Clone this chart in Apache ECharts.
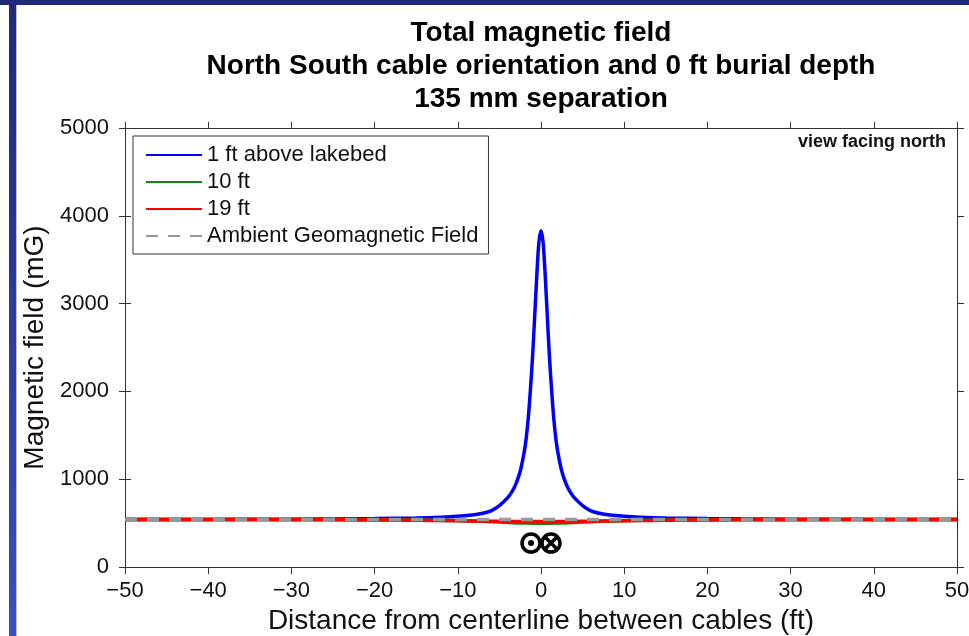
<!DOCTYPE html>
<html>
<head>
<meta charset="utf-8">
<script src="https://cdn.jsdelivr.net/npm/echarts@6/dist/echarts.min.js"></script>
<style>
  html, body { margin: 0; padding: 0; background: #fff; }
  #chart { width: 969px; height: 636px; }
</style>
</head>
<body>
<div id="chart"></div>
<script>
// 数据：估计值
const blueX = [-50, -40, -30, -25, -20, -15, -12, -10, -8, -7, -6, -5, -4, -3.5, -3, -2.5, -2, -1.75, -1.5, -1.25, -1, -0.75, -0.5, -0.25, 0,
  0.25, 0.5, 0.75, 1, 1.25, 1.5, 1.75, 2, 2.5, 3, 3.5, 4, 5, 6, 7, 8, 10, 12, 15, 20, 25, 30, 40, 50];
const blueY = [541, 542, 545, 547, 551, 558, 567, 578, 596, 612, 640, 700, 790, 855, 950, 1090, 1320, 1490, 1730, 2050, 2420, 2870, 3330, 3700, 3830,
  3700, 3330, 2870, 2420, 2050, 1730, 1490, 1320, 1090, 950, 855, 790, 700, 640, 612, 596, 578, 567, 558, 551, 547, 545, 542, 541];

const greenX = [-50, -30, -20, -15, -10, -8, -6, -4, -2, 0, 2, 4, 6, 8, 10, 15, 20, 30, 50];
const greenY = [540, 540, 539, 536, 530, 524, 516, 508, 500, 497, 500, 508, 516, 524, 530, 536, 539, 540, 540];

const redX = [-50, -30, -20, -15, -10, -6, -3, 0, 3, 6, 10, 15, 20, 30, 50];
const redY = [540, 539, 536, 532, 527, 522, 519, 518, 519, 522, 527, 532, 536, 539, 540];

const ambientX = [-50, 50];
const ambientY = [540, 540];

// 电缆位置标记（⊙ 出，⊗ 入）
const cableX = [-1.2, 1.2];
const cableY = [273, 273];

const seriesNames = ['1 ft above lakebed', '10 ft', '19 ft', 'Ambient Geomagnetic Field'];
const xTicks = { min: -50, max: 50, interval: 10 };
const yTicks = { min: 0, max: 5000, interval: 1000 };

const zip = (xs, ys) => xs.map((x, i) => [x, ys[i]]);

const font = 'Liberation Sans, Arial, Helvetica, sans-serif';

const myChart = echarts.init(document.getElementById('chart'), null, { renderer: 'canvas' });

const option = {
  animation: false,
  backgroundColor: '#fff',
  title: [{
    text: 'Total magnetic field\nNorth South cable orientation and 0 ft burial depth\n135 mm separation',
    left: 536,
    top: 12,
    textAlign: 'center',
    textStyle: {
      fontFamily: font,
      fontSize: 28,
      fontWeight: 'bold',
      lineHeight: 33,
      color: '#000'
    }
  }, {
    text: 'view facing north',
    right: 18,
    top: 128,
    textStyle: {
      fontFamily: font,
      fontSize: 18,
      fontWeight: 'bold',
      color: '#111'
    }
  }],
  legend: {
    orient: 'vertical',
    left: 133,
    top: 136,
    padding: [8, 10, 7, 12],
    itemWidth: 56,
    itemHeight: 22,
    itemGap: 5,
    backgroundColor: '#fff',
    borderColor: '#333',
    borderWidth: 1,
    itemStyle: { opacity: 0 },
    data: seriesNames,
    textStyle: {
      fontFamily: font,
      fontSize: 22,
      lineHeight: 22,
      color: '#111'
    }
  },
  grid: {
    left: 125,
    right: 12,
    top: 128,
    bottom: 69,
    outerBoundsMode: 'none'
  },
  xAxis: [{
    type: 'value',
    position: 'bottom',
    min: xTicks.min,
    max: xTicks.max,
    interval: xTicks.interval,
    name: 'Distance from centerline between cables (ft)',
    nameLocation: 'middle',
    nameGap: 40,
    nameTextStyle: { fontFamily: font, fontSize: 28, color: '#111' },
    axisLine: { show: true, onZero: false, lineStyle: { color: '#333', width: 1 } },
    axisTick: { show: true, length: 7, lineStyle: { color: '#333' } },
    axisLabel: {
      margin: 13,
      fontFamily: font,
      fontSize: 22,
      color: '#111',
      formatter: v => String(v).replace('-', '−')
    },
    splitLine: { show: false }
  }, {
    type: 'value',
    position: 'top',
    min: xTicks.min,
    max: xTicks.max,
    interval: xTicks.interval,
    axisLine: { show: true, onZero: false, lineStyle: { color: '#333', width: 1 } },
    axisTick: { show: true, length: 6, lineStyle: { color: '#333' } },
    axisLabel: { show: false },
    splitLine: { show: false }
  }],
  yAxis: [{
    type: 'value',
    position: 'left',
    min: yTicks.min,
    max: yTicks.max,
    interval: yTicks.interval,
    name: 'Magnetic field (mG)',
    nameLocation: 'middle',
    nameGap: 65,
    nameTextStyle: { fontFamily: font, fontSize: 28, color: '#111' },
    axisLine: { show: true, onZero: false, lineStyle: { color: '#333', width: 1 } },
    axisTick: { show: true, length: 6, lineStyle: { color: '#333' } },
    axisLabel: { margin: 16, fontFamily: font, fontSize: 22, color: '#111', formatter: v => String(v) },
    splitLine: { show: false }
  }, {
    type: 'value',
    position: 'right',
    min: yTicks.min,
    max: yTicks.max,
    interval: yTicks.interval,
    axisLine: { show: true, onZero: false, lineStyle: { color: '#333', width: 1 } },
    axisTick: { show: true, length: 7, lineStyle: { color: '#333' } },
    axisLabel: { show: false },
    splitLine: { show: false }
  }, {
    // 左轴向内的刻度
    type: 'value',
    position: 'left',
    min: yTicks.min,
    max: yTicks.max,
    interval: yTicks.interval,
    axisLine: { show: false, onZero: false },
    axisTick: { show: true, inside: true, length: 6, lineStyle: { color: '#333' } },
    axisLabel: { show: false },
    splitLine: { show: false }
  }],
  series: [{
    name: seriesNames[0],
    type: 'line',
    data: zip(blueX, blueY),
    symbol: 'none',
    smooth: 0.3,
    lineStyle: { color: '#0000ff', width: 3.5 },
    itemStyle: { color: '#0000ff' }
  }, {
    name: seriesNames[1],
    type: 'line',
    data: zip(greenX, greenY),
    symbol: 'none',
    smooth: 0.3,
    lineStyle: { color: '#118811', width: 3.5 },
    itemStyle: { color: '#118811' }
  }, {
    name: seriesNames[2],
    type: 'line',
    data: zip(redX, redY),
    symbol: 'none',
    smooth: 0.3,
    lineStyle: { color: '#ff0000', width: 3.5 },
    itemStyle: { color: '#ff0000' }
  }, {
    name: seriesNames[3],
    type: 'line',
    data: zip(ambientX, ambientY),
    symbol: 'none',
    lineStyle: { color: '#999999', width: 3.5, type: [12, 10] },
    itemStyle: { color: '#999999' }
  }, {
    // 电缆外圈
    name: 'cable rings',
    type: 'scatter',
    data: zip(cableX, cableY),
    symbol: 'circle',
    symbolSize: 18,
    itemStyle: { color: '#fff', borderColor: '#000', borderWidth: 3.5, opacity: 1 },
    z: 5
  }, {
    // ⊙ 中心点
    name: 'cable dot',
    type: 'scatter',
    data: zip(cableX.slice(0, 1), cableY.slice(0, 1)),
    symbol: 'circle',
    symbolSize: 6,
    itemStyle: { color: '#000', opacity: 1 },
    z: 6
  }, {
    // ⊗ 叉
    name: 'cable cross',
    type: 'scatter',
    data: zip(cableX.slice(1), cableY.slice(1)),
    symbol: 'path://M0,0L10,10M0,10L10,0',
    symbolSize: 11,
    itemStyle: { color: 'none', borderColor: '#000', borderWidth: 3.5, opacity: 1 },
    z: 6
  }],
  graphic: [{
    type: 'rect',
    shape: { x: 0, y: 0, width: 969, height: 5 },
    style: { fill: '#1f2a78' },
    z: 100
  }, {
    type: 'rect',
    shape: { x: 9, y: 0, width: 7, height: 636 },
    style: {
      fill: new echarts.graphic.LinearGradient(0, 0, 0, 1, [
        { offset: 0, color: '#1f2a78' },
        { offset: 1, color: '#3550c4' }
      ])
    },
    z: 100
  }, {
    type: 'rect',
    shape: { x: 16, y: 5, width: 1, height: 631 },
    style: { fill: '#b8bccc' },
    z: 100
  }]
};

myChart.setOption(option);
</script>
</body>
</html>
